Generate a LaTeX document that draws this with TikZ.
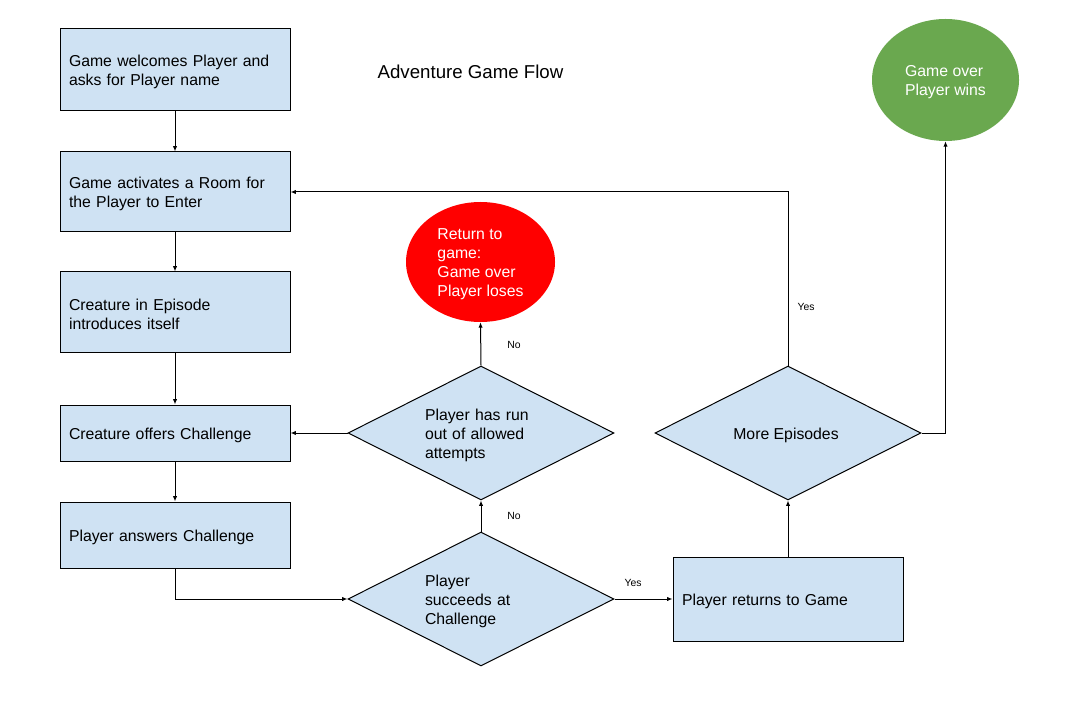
\documentclass[tikz,border=0pt]{standalone}
\usepackage{fontspec}
\setmainfont{Liberation Sans}
\usetikzlibrary{shapes.geometric,arrows.meta}
\definecolor{boxblue}{HTML}{CFE2F3}
\definecolor{wingreen}{HTML}{6AA84F}
\definecolor{losered}{HTML}{FF0000}
\newcommand\topfix{\rule{0pt}{11.8pt}}
\begin{document}
\begin{tikzpicture}[x=0.75pt,y=-0.75pt,
  every node/.style={font=\fontsize{11.85}{14.25}\selectfont},
  procbox/.style={draw=black,fill=boxblue,line width=0.75pt,minimum width=172.5pt,text width=159pt,align=left,inner sep=0pt},
  decide/.style={draw=black,fill=boxblue,line width=0.75pt,shape=diamond,aspect=2,minimum width=199.5pt,minimum height=100.5pt,inner sep=0pt},
  endstate/.style={shape=ellipse,inner sep=0pt,text=white,align=left},
  lbl/.style={font=\fontsize{7.8}{9}\selectfont,inner sep=0pt},
  arr/.style={-{Latex[length=4pt,width=3.2pt]},line width=0.75pt}
]
\fill[white] (0,0) rectangle (1073,723);
\useasboundingbox (0,0) rectangle (1073,723);

\node[font=\fontsize{14}{16}\selectfont] (title) at (470.5,72) {Adventure Game Flow};

\node[procbox,minimum height=61.5pt] (b1) at (175,70) {\topfix Game welcomes Player and\\asks for Player name};
\node[procbox,minimum height=60pt] (b2) at (175,192) {\topfix Game activates a Room for\\the Player to Enter};
\node[procbox,minimum height=60pt] (b3) at (175,312) {\topfix Creature in Episode\\introduces itself};
\node[procbox,minimum height=42pt] (b4) at (175,433) {\topfix Creature offers Challenge};
\node[procbox,minimum height=49.5pt] (b5) at (175,535) {\topfix Player answers Challenge};
\node[procbox,minimum height=63pt] (b6) at (788,599) {\topfix Player returns to Game};

\node[decide,text width=84pt,align=left] (d1) at (481,433) {\topfix Player has run\\out of allowed\\attempts};
\node[decide,text width=84pt,align=left] (d2) at (481,599) {\topfix Player\\succeeds at\\Challenge};
\node[decide,align=center] (d3) at (788,433) {\topfix More Episodes\hspace*{3pt}};

\node[endstate,fill=losered,minimum width=111.75pt,minimum height=90pt] (lose) at (480.5,262) {\topfix Return to\\game:\\Game over\\Player loses};
\node[endstate,fill=wingreen,minimum width=110.25pt,minimum height=91.5pt] (win) at (945.5,80) {\topfix Game over\\Player wins};

\draw[arr] (b1.south) -- (b2.north);
\draw[arr] (b2.south) -- (b3.north);
\draw[arr] (b3.south) -- (b4.north);
\draw[arr] (b4.south) -- (b5.north);
\draw[arr] (b5.south) |- (d2.west);
\draw[arr] (d2.east) -- (b6.west);
\draw[arr] (d2.north) -- (d1.south);
\draw[arr] (d1.north) -- (lose.south);
\draw[arr] (d1.west) -- (b4.east);
\draw[arr] (b6.north) -- (d3.south);
\draw[arr] (d3.north) |- (b2.east);
\draw[arr] (d3.east) -| (win.south);

\node[lbl] (yes1) at (633,583) {Yes};
\node[lbl] (no1) at (514,516) {No};
\node[lbl] (no2) at (514,345) {No};
\node[lbl] (yes2) at (806,307) {Yes};
\end{tikzpicture}
\end{document}
